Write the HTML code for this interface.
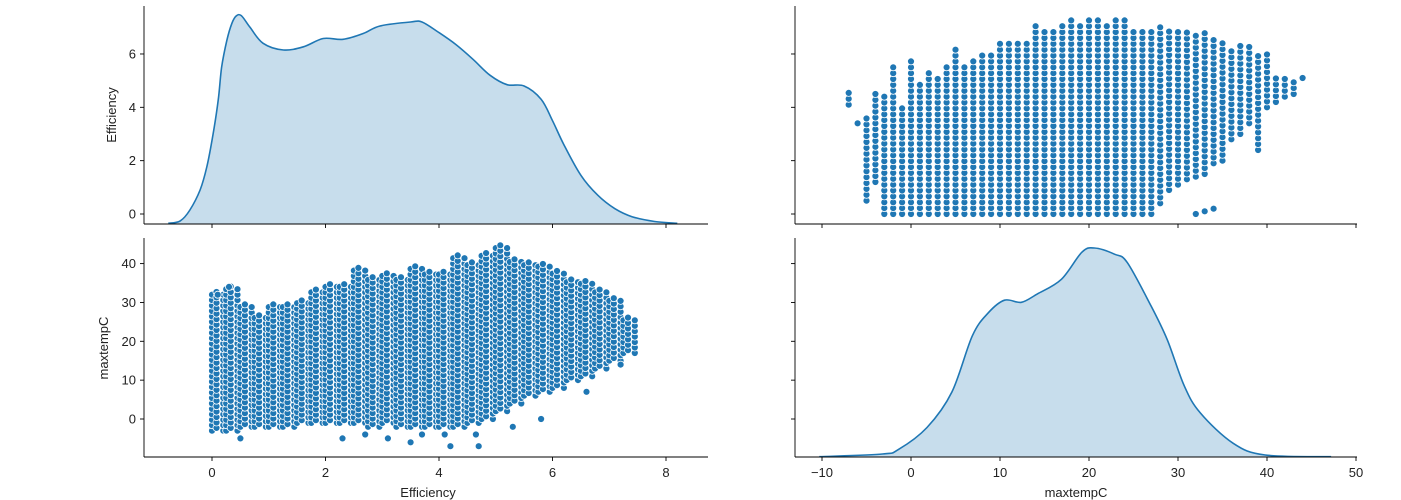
<!DOCTYPE html>
<html><head><meta charset="utf-8"><style>
html,body{margin:0;padding:0;background:#fff}
svg{display:block;font-family:"Liberation Sans","DejaVu Sans",sans-serif}
</style></head><body>
<svg id="chart" width="1401" height="500" viewBox="0 0 1401 500" xmlns="http://www.w3.org/2000/svg">
<g id="tl"></g>
<g id="tr"></g>
<g id="bl"></g>
<g id="br"></g>
<g id="axes"></g>
</svg>
<script>
// ---- data ----
const effKdeX = [-0.77,-0.56,-0.39,-0.21,-0.09,0.02,0.11,0.17,0.26,0.35,0.43,0.52,0.67,0.9,1.26,1.61,1.96,2.31,2.67,2.96,3.5,3.7,4.0,4.3,4.6,4.9,5.2,5.5,5.8,6.0,6.2,6.5,6.8,7.1,7.4,7.8,8.2];
const effKdeY = [-0.35,-0.26,0.15,0.9,1.78,3.0,4.27,5.5,6.5,7.15,7.43,7.43,7.0,6.4,6.15,6.27,6.58,6.55,6.77,7.05,7.2,7.2,6.8,6.35,5.8,5.2,4.85,4.8,4.3,3.5,2.6,1.45,0.7,0.2,-0.1,-0.28,-0.35];
const tempKdeX = [-10.3,-3.2,-1.4,1.8,4.6,6.9,8.7,10.5,12.4,14.2,16.9,19.2,20.6,22.9,24.3,27.0,28.8,30.7,32.5,36.2,39.8,47.2];
const tempKdeY = [0,0.013,0.035,0.14,0.31,0.58,0.69,0.75,0.74,0.78,0.85,0.98,1.0,0.97,0.93,0.72,0.56,0.34,0.21,0.064,0.008,0];
const effBins = [0,0.25,0.5,0.75,1,1.25,1.5,1.75,2,2.25,2.5,2.75,3,3.25,3.5,3.75,4,4.25,4.5,4.75,5,5.25,5.5,5.75,6,6.25,6.5,6.75,7,7.25];
const binTempLo = [-3,-3,-2,-2,-2,-2,-1,-1,-1,-1,-1,-2,-1,-2,-2,-2,-2,-2,-1,0,2,4,6,7,8,10,11,13,15,17];
const binTempHi = [33,34,29,27,29,29,30,33,35,34,39,37,38,37,39,38,38,42,40,42,44,41,40,40,38,36,35,33,31,26];
const outEff = [0.5,2.3,2.7,3.1,3.5,3.7,4.1,4.2,4.7,4.65,5.3,5.8,6.6,7.2,0.1,0.3];
const outTemp = [-5,-5,-4,-5,-6,-4,-4,-7,-7,-4,-2,0,7,14,32,34];
const colTemps = [-7,-6,-5,-4,-3,-2,-1,0,1,2,3,4,5,6,7,8,9,10,11,12,13,14,15,16,17,18,19,20,21,22,23,24,25,26,27,28,29,30,31,32,33,34,35,36,37,38,39,40,41,42,43,44];
const colEffLo = [4.1,3.4,0.5,1.2,0,0,0,0,0,0,0,0,0,0,0,0,0,0,0,0,0,0,0,0,0,0,0,0,0,0,0,0,0,0,0,0.4,0.9,1.1,1.3,1.4,1.5,1.9,2.0,2.8,3.0,3.4,2.4,4.0,4.2,4.4,4.5,5.1];
const colEffHi = [4.6,3.6,3.7,4.7,4.5,5.5,4.0,5.8,5.0,5.3,5.1,5.5,6.3,5.5,5.8,6.0,6.1,6.4,6.5,6.5,6.5,7.2,6.9,6.9,7.1,7.4,7.2,7.3,7.3,7.2,7.4,7.3,7.0,7.0,6.9,7.0,6.9,6.9,6.8,6.7,6.9,6.6,6.6,6.2,6.3,6.3,6.0,6.1,5.2,5.2,5.1,5.1];
const outColT = [32,33,34];
const outColE = [0,0.1,0.2];
const effTicks = [0,2,4,6,8];
const effYTicks = [0,2,4,6];
const tempTicks = [-10,0,10,20,30,40,50];
const tempYTicks = [0,10,20,30,40];

// ---- scales ----
const xE = e => 212 + e*56.75;
const yE = v => 214 - v*26.67;
const yT = t => 419 - t*3.885;
const xT = t => 911 + t*8.9;
const yD = d => 456.7 - d*208.7;
const NS = "http://www.w3.org/2000/svg";
function mk(tag, parent){ const el = document.createElementNS(NS, tag); parent.appendChild(el); return el; }
const BLUE = "#1f77b4";

function smoothPath(pts){
  let d = "M" + pts[0][0].toFixed(1) + "," + pts[0][1].toFixed(1);
  for(let i=0;i<pts.length-1;i++){
    const p0 = pts[Math.max(0,i-1)], p1 = pts[i], p2 = pts[i+1], p3 = pts[Math.min(pts.length-1,i+2)];
    const c1x = p1[0] + (p2[0]-p0[0])/6, c1y = p1[1] + (p2[1]-p0[1])/6;
    const c2x = p2[0] - (p3[0]-p1[0])/6, c2y = p2[1] - (p3[1]-p1[1])/6;
    d += " C" + c1x.toFixed(1) + "," + c1y.toFixed(1) + " " + c2x.toFixed(1) + "," + c2y.toFixed(1) + " " + p2[0].toFixed(1) + "," + p2[1].toFixed(1);
  }
  return d;
}
function kde(parent, xs, ys, fx, fy, base, name){
  const pts = xs.map((x,i)=>[fx(x), fy(ys[i])]);
  const line = smoothPath(pts);
  const a = mk("path", parent);
  
  
  a.setAttribute("d", "M" + pts[0][0] + "," + base + " L" + line.slice(1) + " L" + pts[pts.length-1][0] + "," + base + " Z");
  a.setAttribute("fill", "rgba(31,119,180,0.25)");
  const p = mk("path", parent);
  
  
  p.setAttribute("d", line); p.setAttribute("fill", "none"); p.setAttribute("stroke", BLUE); p.setAttribute("stroke-width", "1.6");
}
function dot(parent, cx, cy){
  const c = mk("circle", parent);
  
  
  c.setAttribute("cx", cx.toFixed(1)); c.setAttribute("cy", cy.toFixed(1)); c.setAttribute("r", "3.5");
  c.setAttribute("fill", BLUE); c.setAttribute("stroke", "#fff"); c.setAttribute("stroke-width", "0.8");
}

kde(document.getElementById("tl"), effKdeX, effKdeY, xE, yE, yE(-0.375), "efficiency-kde");
kde(document.getElementById("br"), tempKdeX, tempKdeY, xT, yD, 456.7, "maxtemp-kde");

const bl = document.getElementById("bl");
effBins.forEach((b,i)=>{
  for(let k=0;k<3;k++){
    const e = b + k*0.1 - 0.02*(k%2);
    if (e > 7.45) continue;
    for(let t=binTempLo[i]; t<=binTempHi[i]; t+=1.4) dot(bl, xE(e), yT(t + (k%2)*0.7));
  }
});
outEff.forEach((e,i)=>dot(bl, xE(e), yT(outTemp[i])));

const tr = document.getElementById("tr");
colTemps.forEach((t,i)=>{
  for(let v=colEffLo[i]; v<=colEffHi[i]+1e-6; v+=0.22) dot(tr, xT(t), yE(v));
});
outColT.forEach((t,i)=>dot(tr, xT(t), yE(outColE[i])));

const ax = document.getElementById("axes");
function line(x1,y1,x2,y2,name){
  const l = mk("line", ax);
  
  
  l.setAttribute("x1",x1); l.setAttribute("y1",y1); l.setAttribute("x2",x2); l.setAttribute("y2",y2);
  l.setAttribute("stroke","#000"); l.setAttribute("stroke-width","0.9");
}
function text(x,y,s,anchor,name,rot){
  const t = mk("text", ax);
  
  
  t.setAttribute("x",x); t.setAttribute("y",y); t.setAttribute("text-anchor",anchor);
  t.setAttribute("font-size","13"); t.setAttribute("fill","#222");
  if(rot) t.setAttribute("transform","rotate(-90 "+x+" "+y+")");
  t.textContent = s;
}
const panels = [
  {l:144,r:708,t:6,b:224},{l:795,r:1357,t:6,b:224},
  {l:144,r:708,t:238,b:457},{l:795,r:1357,t:238,b:457}
];
panels.forEach(p=>{
  line(p.l,p.t,p.l,p.b,"y-axis-spine");
  line(p.l,p.b,p.r,p.b,"x-axis-spine");
});
[0,2].forEach(pi=>{
  const p = panels[pi];
  effTicks.forEach(v=>{ line(xE(v),p.b,xE(v),p.b+4,"x-tick"); if(pi===2) text(xE(v),p.b+20,String(v),"middle","x-tick-label"); });
});
[1,3].forEach(pi=>{
  const p = panels[pi];
  tempTicks.forEach(v=>{ line(xT(v),p.b,xT(v),p.b+4,"x-tick"); if(pi===3) text(xT(v),p.b+20,String(v).replace("-","\u2212"),"middle","x-tick-label"); });
});
[0,1].forEach(pi=>{
  const p = panels[pi];
  effYTicks.forEach(v=>{ line(p.l-4,yE(v),p.l,yE(v),"y-tick"); if(pi===0) text(p.l-8,yE(v)+4.5,String(v),"end","y-tick-label"); });
});
[2,3].forEach(pi=>{
  const p = panels[pi];
  tempYTicks.forEach(v=>{ line(p.l-4,yT(v),p.l,yT(v),"y-tick"); if(pi===2) text(p.l-8,yT(v)+4.5,String(v),"end","y-tick-label"); });
});
text(116,115,"Efficiency","middle","y-axis-title-efficiency",true);
text(108,348,"maxtempC","middle","y-axis-title-maxtempc",true);
text(428,497,"Efficiency","middle","x-axis-title-efficiency");
text(1076,497,"maxtempC","middle","x-axis-title-maxtempc");
</script>
</body></html>
